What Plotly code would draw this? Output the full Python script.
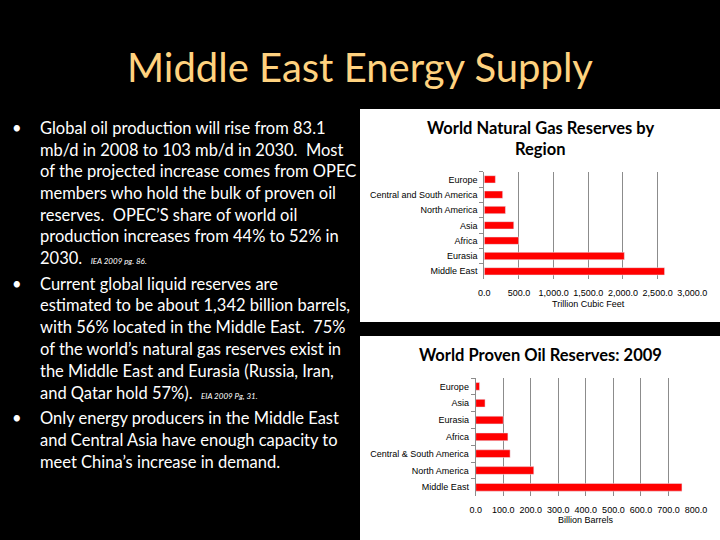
import plotly.graph_objects as go

# ---------------- data ----------------
gas_regions = ["Europe", "Central and South America", "North America", "Asia",
               "Africa", "Eurasia", "Middle East"]
gas_tcf = [160, 265, 305, 425, 495, 2020, 2600]

oil_regions = ["Europe", "Asia", "Eurasia", "Africa", "Central & South America",
               "North America", "Middle East"]
oil_bbl = [14, 34, 100, 117, 125, 211, 749]

gas_ticks = [0, 500, 1000, 1500, 2000, 2500, 3000]
oil_ticks = [0, 100, 200, 300, 400, 500, 600, 700, 800]

slide_title = "Middle East Energy Supply"
bullet_lines = [
    ["Global oil production will rise from 83.1",
     "mb/d in 2008 to 103 mb/d in 2030.  Most",
     "of the projected increase comes from OPEC",
     "members who hold the bulk of proven oil",
     "reserves.  OPEC\u2019S share of world oil",
     "production increases from 44% to 52% in",
     "2030.  <i><span style='font-size:8px'>IEA 2009 pg. 86.</span></i>"],
    ["Current global liquid reserves are",
     "estimated to be about 1,342 billion barrels,",
     "with 56% located in the Middle East.  75%",
     "of the world\u2019s natural gas reserves exist in",
     "the Middle East and Eurasia (Russia, Iran,",
     "and Qatar hold 57%).  <i><span style='font-size:8px'>EIA 2009 Pg, 31.</span></i>"],
    ["Only energy producers in the Middle East",
     "and Central Asia have enough capacity to",
     "meet China\u2019s increase in demand."],
]
bullet_line_y = [
    [128, 150, 171, 193, 215, 236, 258],
    [284, 305, 327, 349, 371, 393],
    [418, 440, 462],
]

W, H = 720, 540
BODY = "Lato"
CHART = "Liberation Sans"

fig = go.Figure()
fig.add_trace(go.Bar(x=gas_tcf, y=gas_regions, orientation="h",
                     marker_color="#FF0000", width=0.48,
                     xaxis="x", yaxis="y", showlegend=False))
fig.add_trace(go.Bar(x=oil_bbl, y=oil_regions, orientation="h",
                     marker_color="#FF0000", width=0.46,
                     xaxis="x2", yaxis="y2", showlegend=False))

def px(x):
    return x / W

def py(y):
    return 1 - y / H

xcommon = dict(showgrid=True, gridcolor="#8c8c8c", gridwidth=1, zeroline=False,
               showline=False, ticks="", tickformat=",.1f", automargin=False,
               tickfont=dict(family=CHART, size=9, color="#000"),
               ticklabelstandoff=7, fixedrange=True)
ycommon = dict(type="category", showgrid=False, zeroline=False, showline=True,
               linecolor="#8c8c8c", linewidth=1, ticks="outside", ticklen=4,
               tickcolor="#8c8c8c", tickson="boundaries", automargin=False,
               tickfont=dict(family=CHART, size=9, color="#000"),
               ticklabelstandoff=4, fixedrange=True)

fig.update_layout(
    width=W, height=H, autosize=False,
    margin=dict(l=0, r=0, t=0, b=0, pad=0, autoexpand=False),
    paper_bgcolor="#000000", plot_bgcolor="#FFFFFF",
    bargap=0.5, showlegend=False,
    xaxis=dict(domain=[px(484.3), px(692.3)], range=[0, 3000], tickvals=gas_ticks,
               anchor="y", **xcommon),
    yaxis=dict(domain=[py(279), py(171.7)], categoryarray=gas_regions,
               categoryorder="array", range=[6.5, -0.5], anchor="x", **ycommon),
    xaxis2=dict(domain=[px(475.7), px(696)], range=[0, 800], tickvals=oil_ticks,
                anchor="y2", **xcommon),
    yaxis2=dict(domain=[py(495.7), py(378)], categoryarray=oil_regions,
                categoryorder="array", range=[6.5, -0.5], anchor="x2", **ycommon),
)

# white chart panels
fig.add_shape(type="rect", xref="paper", yref="paper", x0=px(360), x1=1,
              y0=py(322), y1=py(109), fillcolor="#FFFFFF", line_width=0, layer="below")
fig.add_shape(type="rect", xref="paper", yref="paper", x0=px(360), x1=1,
              y0=0, y1=py(336), fillcolor="#FFFFFF", line_width=0, layer="below")

ann = []
ann.append(dict(text=slide_title, x=0.5, y=py(67), xref="paper", yref="paper",
                xanchor="center", yanchor="middle", showarrow=False,
                font=dict(family=BODY, size=40, color="#FFD27F")))

for lines, ys in zip(bullet_lines, bullet_line_y):
    ann.append(dict(text="\u2022", x=px(10), y=py(ys[0]), xref="paper", yref="paper",
                    xanchor="left", yanchor="middle", showarrow=False,
                    font=dict(family=BODY, size=16.5, color="#FFFFFF")))
    for t, yy in zip(lines, ys):
        ann.append(dict(text=t, x=px(38), y=py(yy), xref="paper", yref="paper",
                        xanchor="left", yanchor="middle", showarrow=False,
                        font=dict(family=BODY, size=16.5, color="#FFFFFF")))

ann.append(dict(text="<b>World Natural Gas Reserves by</b>", x=px(540), y=py(127.5),
                xref="paper", yref="paper", xanchor="center", yanchor="middle",
                showarrow=False, font=dict(family=BODY, size=16.5, color="#000")))
ann.append(dict(text="<b>Region</b>", x=px(540), y=py(148.5),
                xref="paper", yref="paper", xanchor="center", yanchor="middle",
                showarrow=False, font=dict(family=BODY, size=16.5, color="#000")))
ann.append(dict(text="Trillion Cubic Feet", x=px(588), y=py(304),
                xref="paper", yref="paper", xanchor="center", yanchor="middle",
                showarrow=False, font=dict(family=CHART, size=9, color="#000")))
ann.append(dict(text="<b>World Proven Oil Reserves: 2009</b>", x=px(540), y=py(355),
                xref="paper", yref="paper", xanchor="center", yanchor="middle",
                showarrow=False, font=dict(family=BODY, size=16.5, color="#000")))
ann.append(dict(text="Billion Barrels", x=px(586), y=py(520),
                xref="paper", yref="paper", xanchor="center", yanchor="middle",
                showarrow=False, font=dict(family=CHART, size=9, color="#000")))

fig.update_layout(annotations=ann)
fig.write_html(
    "out.html",
    config={"displayModeBar": False, "responsive": False},
    post_script="document.body.style.margin='0';document.body.style.padding='0';"
                "document.body.style.background='#000';",
)
